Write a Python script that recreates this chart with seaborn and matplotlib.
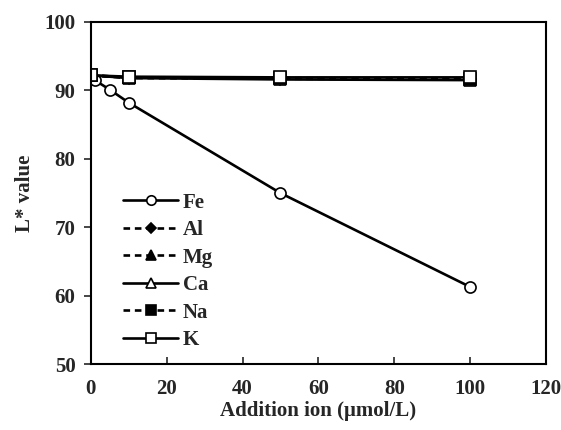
import matplotlib

matplotlib.use("Agg")
import matplotlib.pyplot as plt
import pandas as pd
import seaborn as sns

# ion concentrations (umol/L)
fe_x = [0, 1, 5, 10, 50, 100]
fe_y = [92.2, 91.5, 90.1, 88.2, 75.0, 61.3]

other_x = [0, 10, 50, 100]
al_y = [92.2, 91.8, 91.7, 91.6]
mg_y = [92.2, 91.9, 91.8, 91.7]
ca_y = [92.2, 91.8, 91.6, 91.5]
na_y = [92.2, 91.9, 91.8, 91.6]
k_y = [92.2, 92.0, 91.9, 91.9]

x_ticks = [0, 20, 40, 60, 80, 100, 120]
y_ticks = [50, 60, 70, 80, 90, 100]

dashed = (0, (2.5, 1.8))
series = [
    ("Fe", fe_x, fe_y, "o", "white", "-"),
    ("Al", other_x, al_y, "D", "black", dashed),
    ("Mg", other_x, mg_y, "^", "black", dashed),
    ("Ca", other_x, ca_y, "^", "white", "-"),
    ("Na", other_x, na_y, "s", "black", dashed),
    ("K", other_x, k_y, "s", "white", "-"),
]

sns.set_style("white")
plt.rcParams["font.family"] = ["Liberation Serif", "DejaVu Serif"]
plt.rcParams["font.weight"] = "bold"
FS = 15

fig = plt.figure(figsize=(5.61, 4.30), dpi=100)
ax = fig.add_axes([0.162, 0.153, 0.811, 0.796])

for name, xs, ys, mk, fc, ls in series:
    df = pd.DataFrame({"x": xs, "y": ys})
    ms = 6.5 if mk == "D" else 8
    sns.lineplot(
        data=df, x="x", y="y", ax=ax, label=name,
        color="black", linewidth=1.9, linestyle=ls,
        marker=mk, markersize=ms, markerfacecolor=fc,
        markeredgecolor="black", markeredgewidth=1.2,
    )

ax.set_xlim(0, 120)
ax.set_ylim(50, 100)
ax.set_xticks(x_ticks)
ax.set_yticks(y_ticks)
ax.tick_params(axis="x", direction="in", length=5, width=1.2, labelsize=FS, pad=11)
ax.tick_params(axis="y", direction="out", length=5, width=1.2, labelsize=FS, pad=6)
ax.tick_params(left=True, bottom=True)
for lab in ax.get_xticklabels() + ax.get_yticklabels():
    lab.set_fontweight("bold")
for sp in ax.spines.values():
    sp.set_color("black")
    sp.set_linewidth(1.5)

ax.set_xlabel("Addition ion (\u03bcmol/L)", fontsize=FS, fontweight="bold", labelpad=1)
ax.set_ylabel("L* value", fontsize=FS, fontweight="bold", labelpad=7)

ax.legend(
    loc="upper left", bbox_to_anchor=(0.03, 0.556), frameon=False,
    handlelength=2.65, labelspacing=0.36, handletextpad=0.2, markerscale=0.85,
    prop={"weight": "bold", "size": FS},
)

fig.savefig("out.png", dpi=100)
